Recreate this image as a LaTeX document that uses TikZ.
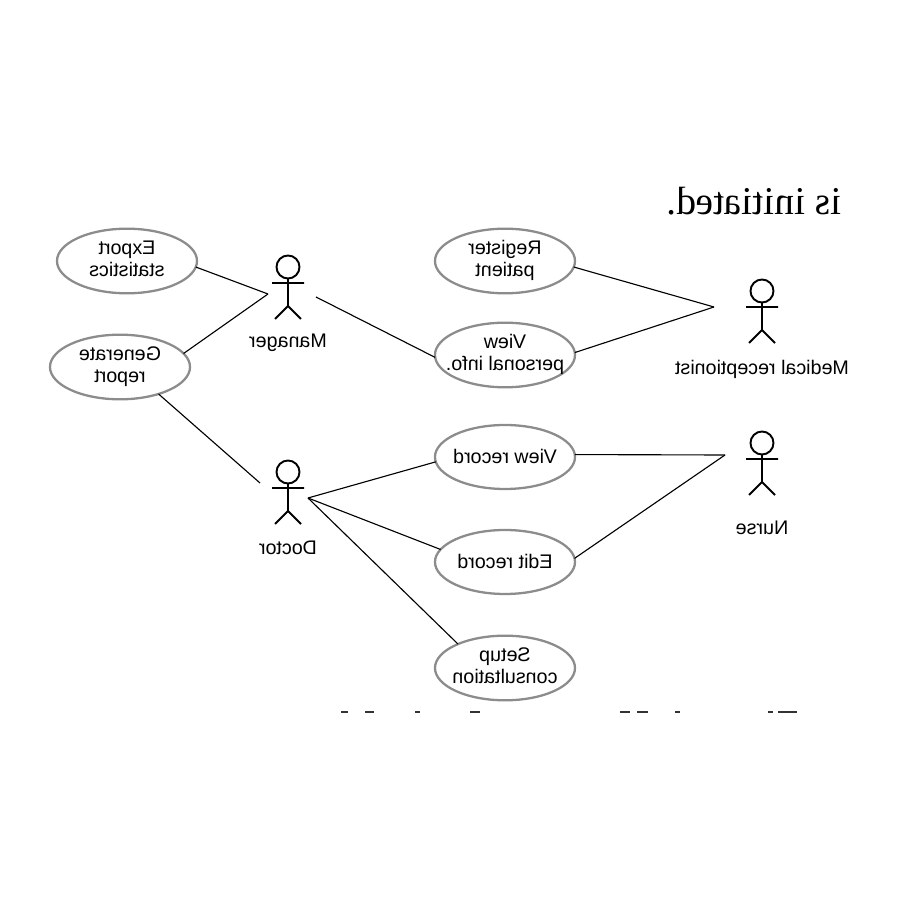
\documentclass[tikz,border=0pt]{standalone}
\usepackage{fontspec}
\setmainfont{Liberation Sans}
\newfontfamily\headfont{Liberation Serif}
\usetikzlibrary{shapes.geometric}

\newcommand{\flip}[1]{\makebox[0pt]{\reflectbox{\begin{tabular}{@{}c@{}}#1\end{tabular}}}}

\tikzset{
    usecase/.style={ellipse, draw=black!45, line width=0.65pt, minimum width=1.4cm,
        minimum height=0.64cm, inner sep=0pt, outer sep=0pt,
        font=\fontsize{5.6}{6.5}\selectfont},
    actorhead/.style={circle, draw, line width=0.55pt, minimum size=0.23cm, inner sep=0pt, outer sep=0pt},
    actorname/.style={inner sep=0pt, font=\fontsize{5.6}{6.5}\selectfont},
    assoc/.style={line width=0.32pt},
    sliver/.style={fill=black!80, inner sep=0pt, minimum height=0.018cm}
}

\begin{document}
\begin{tikzpicture}
\useasboundingbox (0,0) rectangle (9,9);

\node[font=\headfont\fontsize{11.2}{13}\selectfont, inner sep=0pt] (heading) at (7.54,6.95) {\flip{is initiated.}};

% use cases
\node[usecase] (export)   at (1.27,6.39) {\flip{Export\\statistics}};
\node[usecase] (generate) at (1.20,5.33) {\flip{Generate\\report}};
\node[usecase] (register) at (5.05,6.39) {\flip{Register\\patient}};
\node[usecase] (viewinfo) at (5.05,5.45) {\flip{View\\personal info.}};
\node[usecase] (viewrec)  at (5.05,4.43) {\flip{\raisebox{-0.6pt}{View record}}};
\node[usecase] (editrec)  at (5.05,3.38) {\flip{\raisebox{-0.6pt}{Edit record}}};
\node[usecase] (setup)    at (5.05,2.32) {\flip{Setup\\consultation}};

% actors
\foreach \name/\x/\y/\text/\ly in {manager/2.88/6.33/Manager/5.57,
        doctor/2.88/4.28/Doctor/3.50,
        reception/7.62/6.09/Medical receptionist/5.30,
        nurse/7.62/4.57/Nurse/3.70} {
    \node[actorhead] (\name) at (\x,\y) {};
    \draw[line width=0.55pt] (\name.south) -- ++(0,-0.275) -- ++(-0.13,-0.13)
        (\name.south) ++(0,-0.275) -- ++(0.13,-0.13)
        (\name.south) ++(-0.16,-0.045) -- ++(0.32,0);
    \node[actorname] (\name label) at (\x,\ly) {\flip{\text}};
}

% free ends of the associations
\coordinate (managerL) at (2.68,6.06);
\coordinate (managerR) at (3.16,6.03);
\coordinate (doctorL) at (2.60,4.17);
\coordinate (doctorR) at (3.08,4.02);
\coordinate (receptionL) at (7.14,5.93);
\coordinate (nurseL) at (7.25,4.45);

\draw[assoc] (export.-5) -- (managerL);
\draw[assoc] (generate.12.5) -- (managerL);
\draw[assoc] (generate.-35) -- (doctorL);
\draw[assoc] (managerR) -- (viewinfo.182.5);
\draw[assoc] (register.-5) -- (receptionL);
\draw[assoc] (viewinfo.2) -- (receptionL);
\draw[assoc] (doctorR) -- (viewrec.184);
\draw[assoc] (doctorR) -- (editrec.169);
\draw[assoc] (doctorR) -- (setup.153);
\draw[assoc] (viewrec.2) -- (nurseL);
\draw[assoc] (editrec.3) -- (nurseL);

% tops of the cut off line
\foreach \x/\w in {3.445/0.07, 3.695/0.09, 4.175/0.05, 4.75/0.10, 6.25/0.10,
        6.425/0.11, 6.775/0.05, 7.705/0.05, 7.875/0.19} {
    \node[sliver, minimum width=\w cm] (cut\x) at (\x,1.88) {};
}
\end{tikzpicture}
\end{document}
